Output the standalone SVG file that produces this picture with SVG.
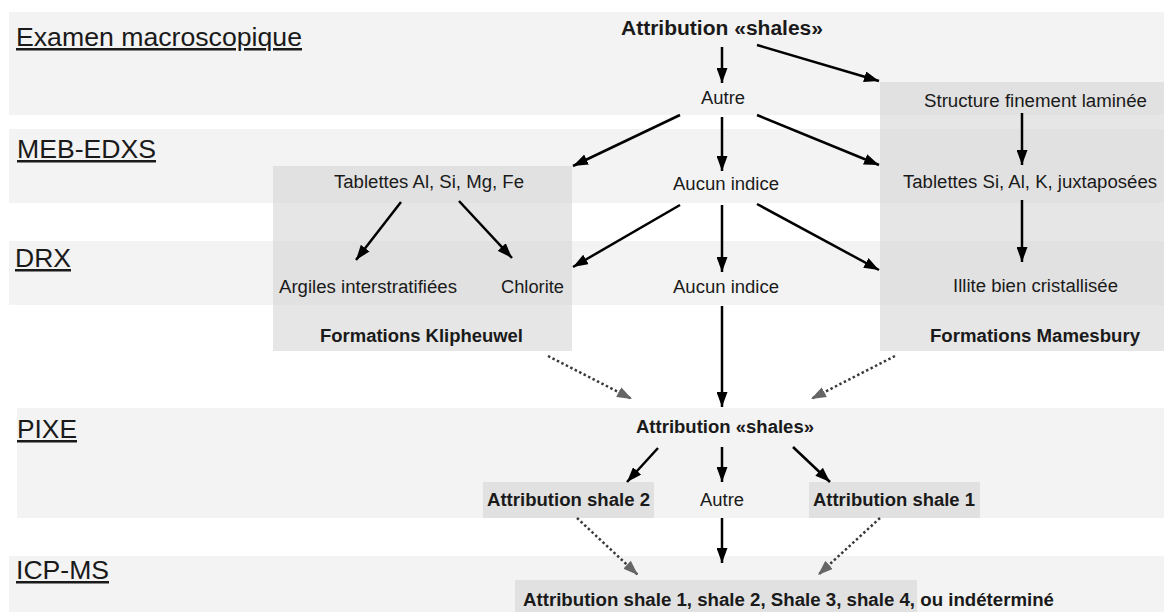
<svg xmlns="http://www.w3.org/2000/svg" width="1164" height="612" viewBox="0 0 1164 612">
  <style>
    text { font-family: "Liberation Sans", Arial, Helvetica, sans-serif; fill: #1a1a1a; }
    .lab { font-size: 25px; text-decoration: underline; }
    .n { font-size: 18px; }
    .b { font-size: 18px; font-weight: bold; }
    .band { fill: #f3f3f3; }
    .box { fill: #d4d4d4; fill-opacity: 0.58; }
    .arr { stroke: #000; stroke-width: 2.5; fill: none; marker-end: url(#ah); }
    .dot { stroke: #3a3a3a; stroke-width: 2.5; stroke-dasharray: 2.5 2.5; fill: none; marker-end: url(#ahg); }
  </style>
  <defs>
    <marker id="ah" markerUnits="userSpaceOnUse" markerWidth="15" markerHeight="11" refX="15" refY="5.5" orient="auto">
      <path d="M0,0 L15,5.5 L0,11 z" fill="#000"/>
    </marker>
    <marker id="ahg" markerUnits="userSpaceOnUse" markerWidth="15" markerHeight="11" refX="15" refY="5.5" orient="auto">
      <path d="M0,0 L15,5.5 L0,11 z" fill="#666"/>
    </marker>
  </defs>
  <rect width="1164" height="612" fill="#fff"/>

  <g id="bands">
    <rect class="band" x="9" y="12" width="1155" height="103"/>
    <rect class="band" x="9" y="129" width="1155" height="74"/>
    <rect class="band" x="9" y="241" width="1155" height="64"/>
    <rect class="band" x="17" y="408" width="1147" height="110"/>
    <rect class="band" x="9" y="556" width="1155" height="56"/>
  </g>

  <g id="labels">
    <text class="lab" x="16" y="46" textLength="286" lengthAdjust="spacingAndGlyphs">Examen macroscopique</text>
    <text class="lab" x="17" y="158" textLength="139" lengthAdjust="spacingAndGlyphs">MEB-EDXS</text>
    <text class="lab" x="15" y="267" textLength="56" lengthAdjust="spacingAndGlyphs">DRX</text>
    <text class="lab" x="17" y="438" textLength="60" lengthAdjust="spacingAndGlyphs">PIXE</text>
    <text class="lab" x="16" y="579" textLength="93" lengthAdjust="spacingAndGlyphs">ICP-MS</text>
  </g>

  <g id="klipheuwel">
    <rect class="box" x="273" y="166" width="299" height="185"/>
    <text class="n" x="334" y="188" textLength="190" lengthAdjust="spacingAndGlyphs">Tablettes Al, Si, Mg, Fe</text>
    <text class="n" x="279" y="293" textLength="178" lengthAdjust="spacingAndGlyphs">Argiles interstratifiées</text>
    <text class="n" x="501" y="293" textLength="63" lengthAdjust="spacingAndGlyphs">Chlorite</text>
    <text class="b" x="320" y="342" textLength="203" lengthAdjust="spacingAndGlyphs">Formations Klipheuwel</text>
  </g>

  <g id="mamesbury">
    <rect class="box" x="880" y="82" width="284" height="269"/>
    <text class="n" x="924" y="107" textLength="223" lengthAdjust="spacingAndGlyphs">Structure finement laminée</text>
    <text class="n" x="903" y="188" textLength="254" lengthAdjust="spacingAndGlyphs">Tablettes Si, Al, K, juxtaposées</text>
    <text class="n" x="953" y="292" textLength="165" lengthAdjust="spacingAndGlyphs">Illite bien cristallisée</text>
    <text class="b" x="930" y="342" textLength="210" lengthAdjust="spacingAndGlyphs">Formations Mamesbury</text>
  </g>

  <g id="attr-top">
    <text class="b" x="621" y="35" font-size="20" style="font-size:20px" textLength="202" lengthAdjust="spacingAndGlyphs">Attribution «shales»</text>
  </g>
  <g id="autre-top">
    <text class="n" x="701" y="104" textLength="44" lengthAdjust="spacingAndGlyphs">Autre</text>
  </g>
  <g id="aucun-meb">
    <text class="n" x="673" y="190" textLength="106" lengthAdjust="spacingAndGlyphs">Aucun indice</text>
  </g>
  <g id="aucun-drx">
    <text class="n" x="673" y="293" textLength="106" lengthAdjust="spacingAndGlyphs">Aucun indice</text>
  </g>
  <g id="attr-pixe">
    <text class="b" x="636" y="433" textLength="178" lengthAdjust="spacingAndGlyphs">Attribution «shales»</text>
  </g>
  <g id="shale2">
    <rect class="box" x="483" y="482" width="171" height="36"/>
    <text class="b" x="487" y="506" textLength="163" lengthAdjust="spacingAndGlyphs">Attribution shale 2</text>
  </g>
  <g id="autre-pixe">
    <text class="n" x="700" y="506" textLength="44" lengthAdjust="spacingAndGlyphs">Autre</text>
  </g>
  <g id="shale1">
    <rect class="box" x="809" y="482" width="171" height="36"/>
    <text class="b" x="813" y="506" textLength="162" lengthAdjust="spacingAndGlyphs">Attribution shale 1</text>
  </g>
  <g id="final">
    <rect class="box" x="515" y="580" width="402" height="32"/>
    <text class="b" x="523" y="606" textLength="531" lengthAdjust="spacingAndGlyphs">Attribution shale 1, shale 2, Shale 3, shale 4, ou indéterminé</text>
  </g>

  <g id="connectors">
    <line class="arr" x1="722" y1="47" x2="722" y2="83"/>
    <line class="arr" x1="757" y1="45" x2="879" y2="81"/>
    <line class="arr" x1="680" y1="115" x2="573" y2="166"/>
    <line class="arr" x1="722" y1="117" x2="722" y2="171"/>
    <line class="arr" x1="757" y1="115" x2="879" y2="165"/>
    <line class="arr" x1="1022" y1="113" x2="1022" y2="165"/>
    <line class="arr" x1="1022" y1="200" x2="1022" y2="262"/>
    <line class="arr" x1="401" y1="202" x2="356" y2="260"/>
    <line class="arr" x1="459" y1="201" x2="512" y2="258"/>
    <line class="arr" x1="680" y1="205" x2="573" y2="267"/>
    <line class="arr" x1="722" y1="205" x2="722" y2="272"/>
    <line class="arr" x1="757" y1="204" x2="879" y2="270"/>
    <line class="arr" x1="722" y1="306" x2="722" y2="407"/>
    <line class="arr" x1="658" y1="448" x2="627" y2="482"/>
    <line class="arr" x1="722" y1="447" x2="722" y2="482"/>
    <line class="arr" x1="793" y1="447" x2="830" y2="482"/>
    <line class="arr" x1="722" y1="518" x2="722" y2="563"/>
    <line class="dot" x1="548" y1="356" x2="632" y2="399"/>
    <line class="dot" x1="895" y1="356" x2="811" y2="399"/>
    <line class="dot" x1="577" y1="518" x2="638" y2="575"/>
    <line class="dot" x1="880" y1="518" x2="818" y2="575"/>
  </g>
</svg>
